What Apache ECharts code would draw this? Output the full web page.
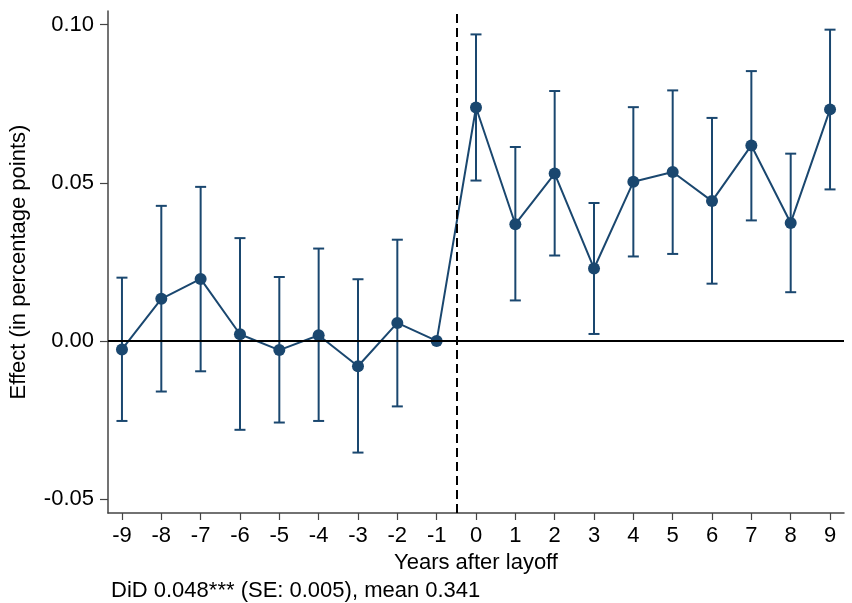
<!DOCTYPE html>
<html>
<head>
<meta charset="utf-8">
<script src="https://cdn.jsdelivr.net/npm/echarts@6/dist/echarts.min.js"></script>
<style>
html,body{margin:0;padding:0;background:#fff;}
#chart{width:852px;height:603px;}
</style>
</head>
<body>
<div id="chart"></div>
<script>
const years = [-9,-8,-7,-6,-5,-4,-3,-2,-1,0,1,2,3,4,5,6,7,8,9];
const estimates = [-0.0027,0.0133,0.0196,0.0021,-0.0029,0.0018,-0.0080,0.0057,0.0000,0.0738,0.0369,0.0529,0.0229,0.0503,0.0534,0.0442,0.0618,0.0373,0.0732];
const ciLow  = [-0.0253,-0.0160,-0.0096,-0.0281,-0.0258,-0.0253,-0.0353,-0.0207,null,0.0507,0.0128,0.0270,0.0022,0.0267,0.0275,0.0181,0.0381,0.0154,0.0479];
const ciHigh = [0.0200,0.0427,0.0487,0.0325,0.0202,0.0292,0.0195,0.0320,null,0.0969,0.0613,0.0790,0.0436,0.0739,0.0792,0.0705,0.0853,0.0592,0.0984];
const yTicks = [-0.05,0,0.05,0.10];
const xTicks = years;
const eventLine = -0.5;
const noteText = 'DiD 0.048*** (SE: 0.005), mean 0.341';

const navy = '#1a476f';
const font = "'Liberation Sans', Arial, Helvetica, sans-serif";

const chart = echarts.init(document.getElementById('chart'), null, {renderer:'canvas'});
const barData = [];
years.forEach((y,i)=>{ if(ciLow[i]!==null && ciHigh[i]!==null) barData.push([y, ciLow[i], ciHigh[i]]); });

chart.setOption({
  animation:false,
  backgroundColor:'#fff',
  grid:{left:107, right:8, top:11, bottom:90, containLabel:false},
  xAxis:{
    type:'value', min:-9.355, max:9.355,
    name:'Years after layoff', nameLocation:'middle', nameGap:33,
    nameTextStyle:{color:'#000', fontSize:22, fontFamily:font},
    splitLine:{show:false},
    axisLine:{show:true, onZero:false, lineStyle:{color:'#444', width:1.5}},
    axisTick:{show:true, length:7, customValues:xTicks, lineStyle:{color:'#444', width:1.2}},
    axisLabel:{customValues:xTicks, color:'#000', fontSize:22, fontFamily:font, margin:12,
      formatter:v=>String(Math.round(v))}
  },
  yAxis:{
    type:'value', min:-0.0544, max:0.1043,
    name:'Effect (in percentage points)', nameLocation:'middle', nameGap:78,
    nameTextStyle:{color:'#000', fontSize:22, fontFamily:font},
    splitLine:{show:false},
    axisLine:{show:true, onZero:false, lineStyle:{color:'#444', width:1.5}},
    axisTick:{show:true, length:8, customValues:yTicks, lineStyle:{color:'#444', width:1.2}},
    axisLabel:{customValues:yTicks, color:'#000', fontSize:22, fontFamily:font, margin:14,
      formatter:v=>v.toFixed(2)}
  },
  graphic:[{
    type:'text', left:111, top:580,
    style:{text:noteText, fill:'#000', font:'22px '+font}
  }],
  series:[
    {
      type:'custom',
      name:'CI',
      data:barData,
      z:2,
      renderItem:function(params, api){
        const x = api.value(0), lo = api.value(1), hi = api.value(2);
        const pTop = api.coord([x, hi]);
        const pBot = api.coord([x, lo]);
        const hw = 5.5;
        const st = {stroke:navy, lineWidth:2};
        return {type:'group', children:[
          {type:'line', shape:{x1:pTop[0], y1:pTop[1], x2:pBot[0], y2:pBot[1]}, style:st},
          {type:'line', shape:{x1:pTop[0]-hw, y1:pTop[1], x2:pTop[0]+hw, y2:pTop[1]}, style:st},
          {type:'line', shape:{x1:pBot[0]-hw, y1:pBot[1], x2:pBot[0]+hw, y2:pBot[1]}, style:st}
        ]};
      }
    },
    {
      type:'line',
      name:'Estimate',
      data:years.map((y,i)=>[y, estimates[i]]),
      z:3,
      symbol:'circle', symbolSize:12,
      itemStyle:{color:navy},
      lineStyle:{color:navy, width:2},
      markLine:{
        silent:true, symbol:'none', label:{show:false}, animation:false,
        data:[
          {yAxis:0, lineStyle:{color:'#000', width:2, type:'solid'}},
          {xAxis:eventLine, lineStyle:{color:'#000', width:2, type:[9,5]}}
        ]
      }
    }
  ]
});
</script>
</body>
</html>
